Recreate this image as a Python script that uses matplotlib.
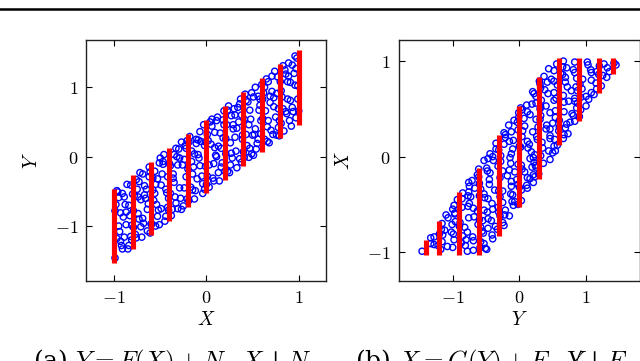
import numpy as np
import matplotlib
matplotlib.use("Agg")
import matplotlib.pyplot as plt
from matplotlib.lines import Line2D

# samples (X, Y) with Y = F(X) + N; panel (b) shows the same points swapped
x_vals = [
    -0.99, -0.93, -0.97, -0.91, -0.95, -0.98, -0.92, -0.96, -0.94, -0.90, -0.99, -0.93, -0.97, -0.91, -0.95,
    -0.89, -0.84, -0.87, -0.81, -0.86, -0.82, -0.88, -0.83, -0.85, -0.80, -0.87, -0.82, -0.89, -0.84, -0.81,
    -0.79, -0.73, -0.76, -0.71, -0.78, -0.74, -0.72, -0.77, -0.75, -0.70, -0.79, -0.73, -0.76, -0.71, -0.74,
    -0.69, -0.64, -0.67, -0.61, -0.66, -0.62, -0.68, -0.63, -0.65, -0.60, -0.69, -0.62, -0.67, -0.64, -0.61,
    -0.59, -0.53, -0.57, -0.51, -0.55, -0.58, -0.52, -0.56, -0.54, -0.50, -0.58, -0.53, -0.56, -0.51, -0.55,
    -0.49, -0.44, -0.47, -0.41, -0.46, -0.42, -0.48, -0.43, -0.45, -0.40, -0.49, -0.42, -0.47, -0.44, -0.41,
    -0.39, -0.33, -0.37, -0.31, -0.35, -0.38, -0.32, -0.36, -0.34, -0.30, -0.39, -0.33, -0.36, -0.31, -0.35,
    -0.29, -0.24, -0.27, -0.21, -0.26, -0.22, -0.28, -0.23, -0.25, -0.20, -0.29, -0.22, -0.27, -0.24, -0.21,
    -0.19, -0.13, -0.17, -0.11, -0.15, -0.18, -0.12, -0.16, -0.14, -0.10, -0.19, -0.13, -0.16, -0.11, -0.15,
    -0.09, -0.04, -0.07, -0.01, -0.06, -0.02, -0.08, -0.03, -0.05, 0.00, -0.09, -0.02, -0.07, -0.04, -0.01,
    0.01, 0.06, 0.03, 0.09, 0.04, 0.08, 0.02, 0.07, 0.05, 0.10, 0.01, 0.08, 0.03, 0.06, 0.09,
    0.11, 0.16, 0.13, 0.19, 0.14, 0.18, 0.12, 0.17, 0.15, 0.20, 0.11, 0.18, 0.13, 0.16, 0.19,
    0.21, 0.27, 0.23, 0.29, 0.24, 0.28, 0.22, 0.26, 0.25, 0.30, 0.21, 0.27, 0.23, 0.26, 0.29,
    0.31, 0.36, 0.33, 0.39, 0.34, 0.38, 0.32, 0.37, 0.35, 0.40, 0.31, 0.38, 0.33, 0.36, 0.39,
    0.41, 0.47, 0.43, 0.49, 0.44, 0.48, 0.42, 0.46, 0.45, 0.50, 0.41, 0.47, 0.43, 0.46, 0.49,
    0.51, 0.56, 0.53, 0.59, 0.54, 0.58, 0.52, 0.57, 0.55, 0.60, 0.51, 0.58, 0.53, 0.56, 0.59,
    0.61, 0.67, 0.63, 0.69, 0.64, 0.68, 0.62, 0.66, 0.65, 0.70, 0.61, 0.67, 0.63, 0.66, 0.69,
    0.71, 0.76, 0.73, 0.79, 0.74, 0.78, 0.72, 0.77, 0.75, 0.80, 0.71, 0.78, 0.73, 0.76, 0.79,
    0.81, 0.86, 0.83, 0.89, 0.84, 0.88, 0.82, 0.87, 0.85, 0.90, 0.81, 0.88, 0.83, 0.86, 0.89,
    0.91, 0.97, 0.93, 0.99, 0.94, 0.98, 0.92, 0.96, 0.95, 1.00, 0.91, 0.97, 0.93, 0.96, 0.99,
]
y_vals = [
    -1.46, -0.81, -1.18, -0.53, -1.00, -0.69, -1.28, -0.51, -1.08, -0.87, -0.78, -1.22, -0.49, -1.33, -0.59,
    -0.58, -1.28, -0.80, -0.99, -0.40, -1.15, -0.69, -0.85, -1.33, -0.54, -0.98, -0.41, -1.16, -0.70, -1.20,
    -1.02, -0.36, -1.17, -0.62, -0.56, -0.82, -0.23, -1.12, -0.47, -1.16, -0.78, -0.90, -0.33, -1.01, -0.58,
    -0.25, -0.76, -0.42, -1.10, -0.60, -0.29, -0.96, -0.68, -0.47, -0.97, -0.89, -0.15, -0.55, -1.07, -0.22,
    -0.97, -0.32, -0.63, -0.09, -1.00, -0.48, -0.77, -0.21, -0.69, -0.02, -0.31, -0.86, -0.53, -0.98, -0.40,
    -0.41, -0.86, -0.11, -0.60, 0.03, -0.73, -0.25, -0.52, -0.93, -0.10, -0.75, -0.29, -0.07, -0.47, -0.77,
    -0.53, 0.12, -0.76, -0.12, -0.37, -0.85, 0.00, -0.31, -0.58, 0.11, -0.13, -0.67, -0.25, -0.75, 0.03,
    -0.02, -0.45, 0.21, -0.61, -0.12, -0.29, -0.60, 0.16, -0.71, -0.18, -0.45, 0.12, -0.76, -0.04, 0.23,
    -0.63, 0.04, -0.44, 0.25, -0.25, 0.29, -0.49, 0.08, -0.15, -0.32, 0.21, -0.61, -0.07, 0.19, -0.48,
    0.03, -0.39, 0.36, -0.14, 0.22, -0.47, -0.02, 0.46, -0.28, -0.40, 0.24, 0.16, -0.13, -0.53, 0.21,
    -0.28, 0.44, -0.44, 0.13, 0.50, -0.10, 0.23, -0.31, 0.18, 0.02, 0.32, -0.35, -0.12, 0.54, 0.35,
    0.52, 0.12, -0.23, 0.46, -0.35, 0.27, 0.57, -0.09, 0.34, -0.21, 0.00, 0.53, 0.15, -0.15, 0.66,
    0.04, 0.59, -0.21, 0.40, 0.73, -0.02, 0.46, 0.20, -0.23, 0.69, 0.26, 0.05, 0.67, -0.12, 0.46,
    0.60, -0.03, 0.41, 0.25, 0.71, -0.08, 0.08, 0.83, 0.50, 0.07, 0.28, 0.60, -0.16, 0.76, 0.31,
    -0.01, 0.67, 0.32, 0.92, 0.16, 0.54, 0.90, -0.01, 0.79, 0.31, 0.54, 0.12, 0.81, 0.46, 0.04,
    0.86, 0.25, 1.00, 0.52, 0.11, 0.83, 0.32, 0.67, 0.19, 1.04, 0.02, 0.74, 0.40, 0.87, 0.33,
    0.55, 1.08, 0.25, 0.87, 0.66, 0.20, 0.92, 0.43, 1.12, 0.38, 0.83, 0.52, 1.00, 0.22, 0.78,
    0.94, 0.31, 0.85, 0.52, 1.23, 0.69, 0.32, 1.15, 0.57, 1.08, 1.16, 0.42, 0.72, 0.91, 0.30,
    0.48, 1.19, 0.69, 1.35, 0.37, 1.08, 0.86, 0.62, 1.25, 0.52, 0.95, 0.83, 1.31, 0.65, 1.16,
    1.07, 0.56, 1.32, 0.83, 0.65, 1.42, 0.44, 1.03, 1.20, 0.66, 0.81, 1.27, 0.71, 1.45, 1.02,
]

# conditional ranges of Y given X (panel a)
a_bar_x = [-1.0, -0.8, -0.6, -0.4, -0.2, 0.0, 0.2, 0.4, 0.6, 0.8, 1.0]
a_bar_lo = [-1.53, -1.33, -1.13, -0.93, -0.73, -0.53, -0.33, -0.13, 0.07, 0.27, 0.46]
a_bar_hi = [-0.46, -0.27, -0.07, 0.13, 0.33, 0.53, 0.73, 0.93, 1.13, 1.33, 1.54]

# conditional ranges of X given Y (panel b)
b_bar_y = [-1.4, -1.2, -0.9, -0.6, -0.3, 0.0, 0.3, 0.6, 0.9, 1.2, 1.4]
b_bar_lo = [-1.03, -1.03, -1.03, -1.03, -0.83, -0.53, -0.23, 0.12, 0.37, 0.67, 0.87]
b_bar_hi = [-0.87, -0.67, -0.37, -0.12, 0.23, 0.53, 0.83, 1.03, 1.03, 1.03, 1.03]

tick_vals = [-1, 0, 1]
tick_labels = ['$-1$', '$0$', '$1$']

plt.rcParams['mathtext.fontset'] = 'cm'
plt.rcParams['font.family'] = 'serif'
plt.rcParams['font.serif'] = ['DejaVu Serif']


def style_axes(ax):
    ax.tick_params(direction='in', length=4, width=0.8, top=True, right=True,
                   labelsize=13, pad=6)
    ax.set_xticks(tick_vals)
    ax.set_xticklabels(tick_labels)
    ax.set_yticks(tick_vals)
    ax.set_yticklabels(tick_labels)
    for sp in ax.spines.values():
        sp.set_linewidth(1.0)
        sp.set_color('#222222')


fig = plt.figure(figsize=(6.4, 3.61), dpi=100)

# panel (a): Y against X
ax1 = fig.add_axes([0.135, 0.222, 0.375, 0.667])
ax1.scatter(x_vals, y_vals, s=20, facecolors='none', edgecolors='b', linewidths=1.0, zorder=2)
ax1.vlines(a_bar_x, a_bar_lo, a_bar_hi, colors='r', linewidth=3.7, zorder=3)
ax1.set_xlim(-1.3, 1.3)
ax1.set_ylim(-1.79, 1.68)
style_axes(ax1)
ax1.set_xlabel('$X$', fontsize=14, labelpad=3)
ax1.set_ylabel('$Y$', fontsize=14, labelpad=10)

# panel (b): X against Y
ax2 = fig.add_axes([0.623, 0.222, 0.377, 0.667])
ax2.scatter(y_vals, x_vals, s=20, facecolors='none', edgecolors='b', linewidths=1.0, zorder=2)
ax2.vlines(b_bar_y, b_bar_lo, b_bar_hi, colors='r', linewidth=3.7, zorder=3)
ax2.set_xlim(-1.81, 1.81)
ax2.set_ylim(-1.3, 1.22)
style_axes(ax2)
ax2.set_xlabel('$Y$', fontsize=14, labelpad=3)
ax2.set_ylabel('$X$', fontsize=14, labelpad=10)

# page rule above the figure and the sub-captions, cut by the lower edge as in the source
fig.add_artist(Line2D([0, 1], [0.975, 0.975], color='black', linewidth=1.8))
fig.text(0.27, -0.02, r'(a) $Y = F(X) + N,\ X \perp N$', fontsize=18,
         ha='center', va='baseline')
fig.text(0.768, -0.02, r'(b) $X = G(Y) + E,\ Y \not\perp E$', fontsize=18,
         ha='center', va='baseline')

fig.savefig('out.png', dpi=100)
